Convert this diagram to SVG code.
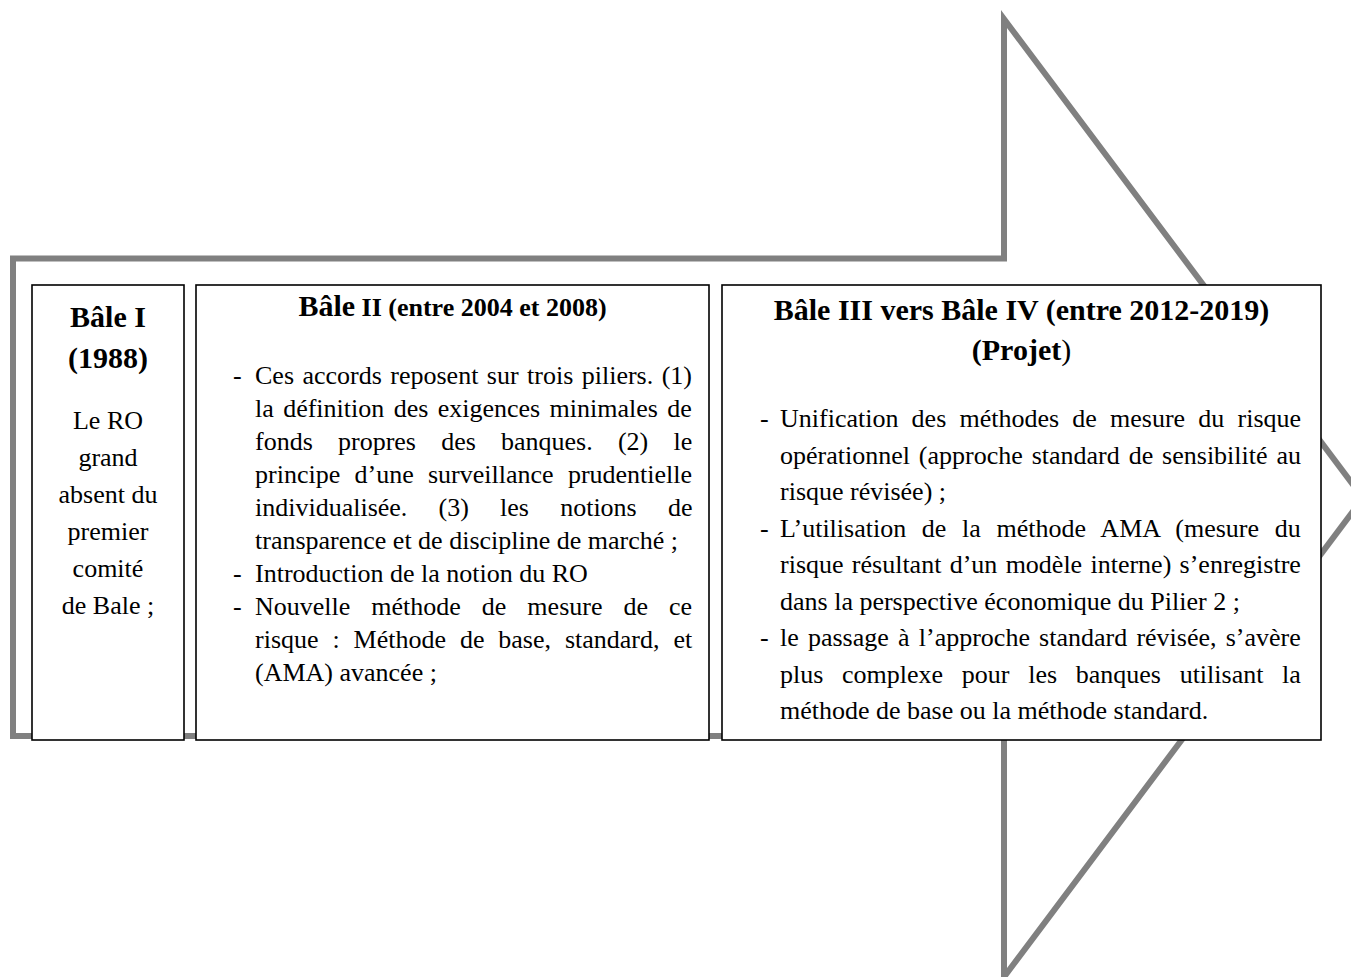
<svg xmlns="http://www.w3.org/2000/svg" width="1351" height="977" viewBox="0 0 1351 977">
  <style>
    .arrow { fill: #ffffff; stroke: #808080; stroke-width: 6; stroke-linejoin: miter; stroke-miterlimit: 10; }
    .box { fill: #ffffff; stroke: #000000; stroke-width: 1.6; }
    text { font-family: "Liberation Serif", "Times New Roman", serif; fill: #000000; }
    .h { font-weight: bold; text-anchor: middle; }
    .c { text-anchor: middle; font-size: 26px; }
    .b { font-size: 26px; }
  </style>

  <!-- big block arrow in the background -->
  <g id="arrow">
    <path class="arrow" d="M1004,258.5 L13,258.5 L13,736 L1004,736 L1004,977 L1363,498 L1004,19 Z"/>
  </g>

  <!-- Bâle I -->
  <g id="bale1">
    <rect class="box" x="32" y="285" width="152" height="455"/>
    <text class="h" x="108" y="327" font-size="30">Bâle I</text>
    <text class="h" x="108" y="368" font-size="30">(1988)</text>
    <text class="c" x="108" y="429">Le RO</text>
    <text class="c" x="108" y="466">grand</text>
    <text class="c" x="108" y="503">absent du</text>
    <text class="c" x="108" y="540">premier</text>
    <text class="c" x="108" y="577">comité</text>
    <text class="c" x="108" y="614">de Bale ;</text>
  </g>

  <!-- Bâle II -->
  <g id="bale2">
    <rect class="box" x="196" y="285" width="513" height="455"/>
    <text class="h" x="452.5" y="316" font-size="26"><tspan font-size="30">Bâle</tspan> II (entre 2004 et 2008)</text>
    <g class="b">
      <text x="233" y="384">-</text>
      <text x="255" y="384" word-spacing="1.95">Ces accords reposent sur trois piliers. (1)</text>
      <text x="255" y="417" word-spacing="2.9">la définition des exigences minimales de</text>
      <text x="255" y="450" word-spacing="18.7">fonds propres des banques. (2) le</text>
      <text x="255" y="483" word-spacing="7.8">principe d’une surveillance prudentielle</text>
      <text x="255" y="516" word-spacing="24.7">individualisée. (3) les notions de</text>
      <text x="255" y="549">transparence et de discipline de marché ;</text>
      <text x="233" y="582">-</text>
      <text x="255" y="582">Introduction de la notion du RO</text>
      <text x="233" y="615">-</text>
      <text x="255" y="615" word-spacing="14.5">Nouvelle méthode de mesure de ce</text>
      <text x="255" y="648" word-spacing="7.4">risque : Méthode de base, standard, et</text>
      <text x="255" y="681">(AMA) avancée ;</text>
    </g>
  </g>

  <!-- Bâle III vers Bâle IV -->
  <g id="bale3">
    <rect class="box" x="722" y="285" width="599" height="455"/>
    <text class="h" x="1021.5" y="320" font-size="30">Bâle III vers Bâle IV (entre 2012-2019)</text>
    <text class="h" x="1021.5" y="360" font-size="30">(Projet<tspan font-weight="normal">)</tspan></text>
    <g class="b">
      <text x="760" y="427">-</text>
      <text x="780" y="427" word-spacing="6.7">Unification des méthodes de mesure du risque</text>
      <text x="780" y="463.5" word-spacing="2.4">opérationnel (approche standard de sensibilité au</text>
      <text x="780" y="500">risque révisée) ;</text>
      <text x="760" y="536.5">-</text>
      <text x="780" y="536.5" word-spacing="9.2">L’utilisation de la méthode AMA (mesure du</text>
      <text x="780" y="573" word-spacing="1.8">risque résultant d’un modèle interne) s’enregistre</text>
      <text x="780" y="609.5">dans la perspective économique du Pilier 2 ;</text>
      <text x="760" y="646">-</text>
      <text x="780" y="646" word-spacing="2.7">le passage à l’approche standard révisée, s’avère</text>
      <text x="780" y="682.5" word-spacing="12.2">plus complexe pour les banques utilisant la</text>
      <text x="780" y="719">méthode de base ou la méthode standard.</text>
    </g>
  </g>
</svg>
